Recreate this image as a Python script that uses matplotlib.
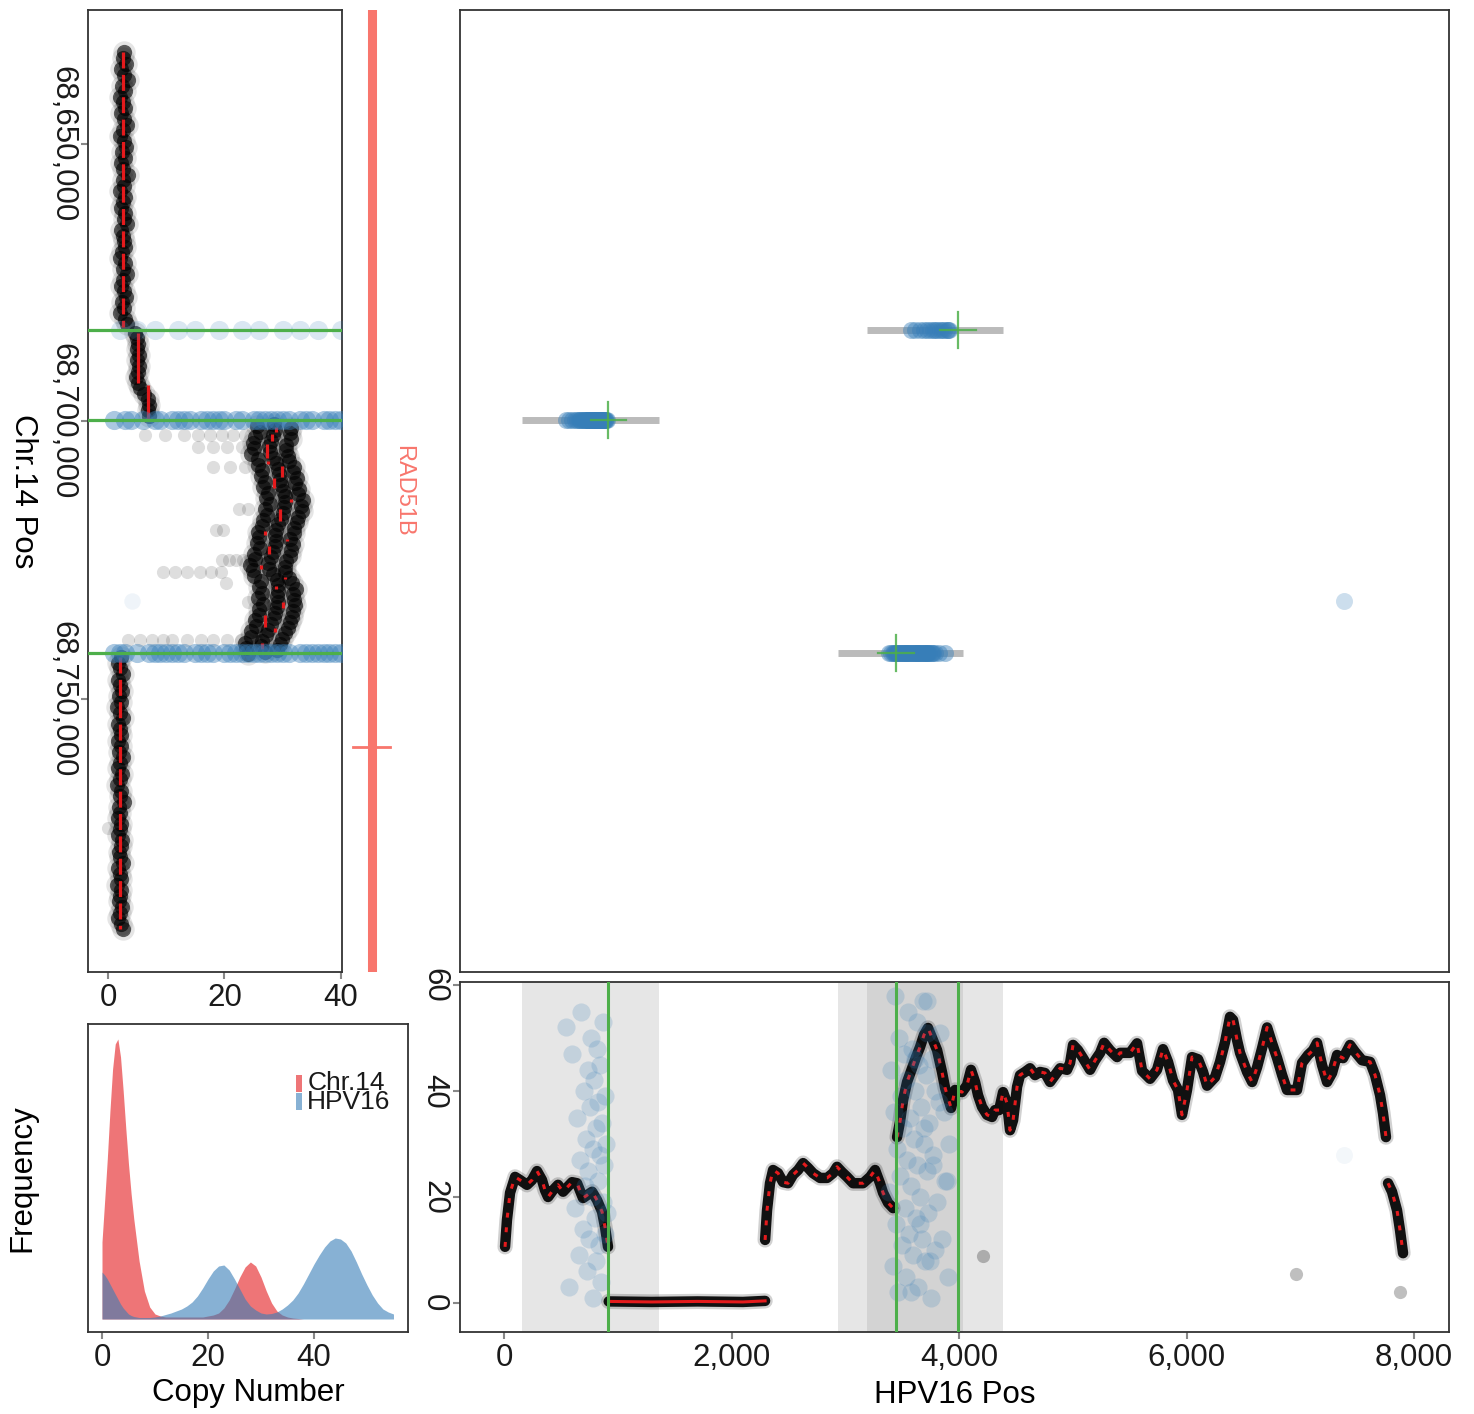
import numpy as np
import matplotlib
matplotlib.use("Agg")
import matplotlib.pyplot as plt
from matplotlib.patches import Rectangle
from matplotlib.ticker import FuncFormatter

plt.rcParams['font.family'] = ['Liberation Sans', 'DejaVu Sans']

BLUE = '#377EB8'
RED = '#E41A1C'
GREEN = '#4DAF4A'
GENE = '#F8766D'

# ---------------- breakpoints ----------------
bp_chr = [68683500, 68699700, 68741700]
bp_hpv = [3991, 918, 3446]
bp_lo = [3191, 158, 2936]
bp_hi = [4387, 1363, 4035]

# ---------------- Chr.14 copy number (1 kb bins) ----------------
bin_size = 1000
chrA_start = 68633500
chrA_cn = [2.8, 2.5, 3.1, 2.2, 2.7, 3.4, 2.4, 2.9, 2.1, 2.6, 3.0, 2.3, 2.8, 3.3, 2.5,
           2.0, 2.7, 3.1, 2.4, 2.9, 2.2, 2.6, 3.5, 2.5, 2.8, 2.1, 3.0, 2.6, 2.3, 2.9,
           2.7, 3.2, 2.2, 2.5, 2.8, 3.0, 2.4, 2.1, 2.9, 2.6, 3.3, 2.5, 2.2, 2.8, 3.1,
           2.4, 2.7, 2.0, 2.9, 3.2]
chrB_start = 68684000
chrB_cn = [4.6, 5.0, 5.2, 4.9, 5.3, 5.0, 5.4, 5.1, 4.8, 5.2, 5.5, 6.2, 6.8, 7.0, 6.9, 7.1]
chrC_start = 68700500
chrC_mid = [28.5, 28.7, 28.3, 27.9, 27.6, 27.8, 28.4, 28.9, 29.2, 29.4, 29.5, 29.7, 30.0, 30.3,
            30.4, 30.2, 30.0, 29.7, 29.2, 28.8, 28.7, 28.8, 28.6, 28.3, 27.9, 27.5, 27.6, 28.3,
            29.0, 29.2, 29.1, 29.0, 29.2, 29.0, 28.7, 28.5, 28.0, 27.5, 27.2, 26.5, 26.3, 27.0]
chrC_left_start = 68700830
chrC_left = [25.6, 26.1, 25.2, 24.9, 25.0, 24.6, 25.7, 25.8, 26.5, 26.2, 26.9, 26.6, 27.4, 27.1,
             27.8, 27.0, 27.3, 26.6, 26.5, 25.7, 26.0, 25.6, 26.1, 25.0, 25.3, 24.4, 24.9, 25.1,
             26.3, 26.0, 26.4, 25.8, 26.6, 25.9, 26.0, 25.3, 25.4, 24.6, 24.5, 23.6, 23.7, 24.1]
chrC_right_start = 68701160
chrC_right = [31.4, 31.2, 31.5, 30.6, 30.5, 30.9, 31.0, 32.0, 31.8, 32.4, 32.1, 32.8, 32.6, 33.4,
              33.1, 33.3, 32.7, 32.5, 32.0, 31.9, 31.3, 31.7, 31.4, 31.2, 30.6, 30.4, 30.3, 31.1,
              31.6, 32.3, 31.8, 32.0, 32.1, 31.7, 31.6, 31.2, 30.9, 30.4, 29.8, 29.5, 29.0]
chrD_start = 68742500
chrD_cn = [2.3, 1.8, 2.1, 2.5, 1.7, 2.0, 2.4, 1.9, 2.2, 1.6, 2.1, 2.6, 1.8, 2.0, 2.3,
           1.7, 2.2, 1.9, 2.5, 2.0, 1.8, 2.4, 2.1, 1.6, 2.2, 2.0, 2.7, 1.9, 2.1, 1.8,
           2.3, 2.0, 1.7, 2.4, 2.2, 1.9, 2.1, 2.5, 1.8, 2.0, 2.3, 1.6, 2.2, 2.0, 1.9,
           2.4, 2.1, 1.8, 2.2, 2.6]

# sparse low-density bins (light grey points)
sparse_chr = [68702400] * 8 + [68704600] * 4 + [68708200] * 3 + [68715800] * 2 + \
             [68719600] * 2 + [68725000] * 5 + [68727100] * 6 + [68729100, 68732500] + \
             [68739400] * 10 + [68773300]
sparse_cn = [6.4, 9.8, 13.0, 15.5, 17.5, 19.6, 21.5, 23.5,
             15.5, 18.0, 20.5, 23.0,
             18.0, 21.0, 23.5,
             22.5, 24.0,
             18.5, 19.7,
             19.5, 20.8, 22.0, 23.2, 24.5,
             9.4, 11.5, 13.5, 15.8, 17.6, 19.4,
             20.3, 24.0,
             3.4, 5.5, 7.5, 9.5, 11.0, 13.5, 16.0, 18.0, 20.5, 22.8,
             0.0]

# segment means (red)
segL_start = [68633500, 68684000, 68693500, 68701000, 68702300, 68704100, 68707200, 68708000,
              68710200, 68714000, 68715800, 68719800, 68721200, 68722500, 68725800, 68728000,
              68729700, 68732600, 68734900, 68737300, 68740000, 68742500]
segL_end = [68683000, 68693000, 68699500, 68701900, 68703500, 68706500, 68707700, 68710000,
            68712000, 68714500, 68718000, 68720400, 68721600, 68723800, 68726600, 68728400,
            68730200, 68733700, 68737000, 68738000, 68741000, 68791500]
segL_cn = [2.6, 5.1, 6.9, 28.8, 28.2, 27.3, 27.5, 29.8, 28.5, 31.5, 29.6, 27.0, 30.8, 27.6,
           26.2, 30.4, 28.9, 30.0, 26.9, 28.6, 26.5, 2.0]

# ---------------- HPV16 coverage ----------------
cov1_pos = [9, 26, 53, 97, 141, 202, 246, 290, 334, 360, 387, 431, 475, 519, 598, 642, 694,
            774, 818, 862, 888, 914]
cov1_val = [10.6, 15.7, 20.8, 23.8, 23.2, 22.3, 23.2, 24.9, 23.2, 21.3, 20.0, 21.3, 22.3,
            21.0, 22.8, 22.6, 19.8, 21.0, 19.4, 17.2, 14.3, 10.6]
cov0_pos = [920, 1300, 1700, 2100, 2295]
cov0_val = [0.3, 0.2, 0.3, 0.2, 0.4]
cov2_pos = [2295, 2312, 2338, 2365, 2409, 2453, 2497, 2541, 2585, 2629, 2673, 2716, 2778,
            2840, 2892, 2927, 2971, 3015, 3068, 3156, 3218, 3262, 3305, 3332, 3376, 3420]
cov2_val = [11.9, 17.5, 22.6, 25.1, 24.5, 22.8, 22.6, 24.2, 25.1, 26.4, 25.5, 24.5, 23.6,
            23.6, 24.5, 25.7, 24.7, 23.8, 22.6, 22.6, 23.8, 25.1, 22.6, 20.8, 18.9, 17.9]
cov3_pos = [3455, 3481, 3508, 3543, 3587, 3622, 3657, 3692, 3727, 3771, 3807, 3850, 3877,
            3903, 3930, 3965, 4026, 4070, 4105, 4141, 4167, 4202, 4246, 4290, 4316, 4352,
            4387, 4422, 4448, 4475, 4510, 4536, 4580, 4624, 4668, 4712, 4756, 4800, 4844,
            4888, 4949, 4976, 5002, 5046, 5090, 5152, 5196, 5240, 5275, 5327, 5389, 5415,
            5503, 5565, 5609, 5679, 5740, 5793, 5837, 5881, 5925, 5960, 6004, 6048, 6101,
            6145, 6180, 6250, 6294, 6338, 6382, 6409, 6444, 6470, 6532, 6576, 6620, 6664,
            6708, 6752, 6796, 6840, 6883, 6971, 7015, 7068, 7112, 7147, 7191, 7235, 7279,
            7323, 7376, 7437, 7481, 7543, 7613, 7657, 7701, 7727, 7753]
cov3_val = [31.3, 34.2, 38.3, 41.7, 44.3, 46.4, 48.3, 50.6, 51.9, 49.6, 47.7, 43.6, 40.6,
            38.7, 36.8, 40.2, 39.8, 41.1, 44.0, 41.7, 39.2, 37.0, 35.5, 35.1, 36.4, 36.4,
            39.8, 37.7, 32.6, 34.5, 40.8, 43.0, 43.6, 44.3, 43.0, 43.6, 43.4, 41.7, 43.0,
            44.3, 44.0, 45.3, 48.7, 47.7, 46.2, 44.0, 45.8, 47.2, 49.1, 47.7, 46.4, 47.2,
            47.2, 49.0, 43.8, 42.3, 44.0, 47.9, 45.5, 42.0, 40.2, 35.5, 40.2, 46.4, 46.0,
            43.6, 41.0, 42.6, 45.5, 49.2, 54.0, 53.4, 49.6, 47.2, 43.6, 41.7, 44.5, 48.1,
            52.0, 49.0, 46.2, 43.0, 40.2, 40.2, 45.3, 46.8, 47.7, 49.1, 44.9, 41.7, 43.4,
            46.8, 46.2, 48.7, 47.4, 45.8, 45.5, 43.0, 39.2, 35.8, 31.3]
cov4_pos = [7771, 7806, 7850, 7876, 7903]
cov4_val = [22.6, 21.0, 17.5, 13.8, 9.4]
cov_out_pos = [4207, 6960, 7876]
cov_out_val = [8.9, 5.5, 2.1]

# ---------------- junction reads (HPV pos, copy number) ----------------
bp1_hpv = [3575, 3610, 3660, 3690, 3720, 3745, 3770, 3790, 3810, 3830, 3850, 3870, 3890,
           3905, 3915]
bp1_cn = [2, 46, 15, 33, 57, 8, 26, 40, 19, 51, 12, 36, 23, 5, 30]
bp2_hpv = [545, 575, 600, 625, 640, 655, 668, 680, 690, 700, 710, 718, 726, 734, 742, 750,
           757, 764, 771, 778, 785, 792, 799, 806, 812, 818, 824, 830, 836, 842, 848, 854,
           860, 866, 872, 878, 884, 890, 896, 902]
bp2_cn = [52, 3, 47, 18, 35, 9, 27, 55, 14, 40, 22, 31, 6, 44, 25, 12, 37, 50, 20, 29, 1,
          42, 16, 33, 8, 48, 23, 38, 11, 28, 45, 4, 34, 19, 53, 26, 13, 39, 30, 17]
bp3_hpv = [3380, 3400, 3415, 3430, 3440, 3450, 3458, 3466, 3474, 3482, 3490, 3498, 3506,
           3514, 3522, 3530, 3538, 3546, 3554, 3562, 3570, 3578, 3586, 3594, 3602, 3610,
           3618, 3626, 3634, 3642, 3650, 3658, 3666, 3674, 3682, 3690, 3698, 3706, 3714,
           3722, 3730, 3740, 3750, 3760, 3772, 3785, 3820, 3877]
bp3_cn = [21, 44, 7, 36, 58, 15, 29, 2, 50, 24, 39, 11, 33, 47, 18, 5, 42, 27, 55, 13, 35,
          22, 48, 9, 31, 40, 16, 53, 26, 3, 45, 20, 37, 12, 57, 30, 8, 43, 25, 51, 17, 34,
          1, 46, 28, 10, 38, 23]
lone_hpv, lone_chr, lone_cn, lone_cn_chrpanel = 7385, 68732400, 28, 4.1

# ---------------- gene ----------------
gene_name = 'RAD51B'
gene_start, gene_end = 68286496, 69196935
gene_mark = 68758660
gene_label_pos = 68712500

# ---------------- copy-number densities (x1e-3) ----------------
dens_x = [0, 0.5, 1, 1.5, 2, 2.5, 3, 3.5, 4, 4.5, 5, 5.5, 6] + list(range(7, 56))
dens_chr = [77, 118, 160, 208, 250, 275, 280, 262, 228, 190, 155, 125, 100,
            58, 28, 12, 5, 3, 2, 2, 2, 2, 2, 2, 2, 2, 3, 4, 6, 11, 19, 30, 42, 52, 57, 53,
            42, 28, 16, 8, 4, 2, 1, 0.5] + [0] * 18
dens_hpv = [47, 44, 40, 35, 30, 25, 20, 15, 11, 8, 5, 3.5, 2.5,
            1.5, 1.5, 1.5, 2, 3, 4.5, 6, 8, 10, 13, 17, 23, 31, 40, 48, 53, 54, 49, 40, 30,
            20, 13, 9, 6, 5, 5.5, 7, 10, 14, 19, 26, 35, 45, 55, 64, 72, 78, 81, 80, 76, 68,
            57, 45, 34, 24, 16, 10, 7, 5]

# ---------------- figure ----------------
W, H = 1474, 1414
fig = plt.figure(figsize=(W / 100, H / 100), dpi=100)


def rect(x0, y0, x1, y1):
    return [x0 / W, 1 - y1 / H, (x1 - x0) / W, (y1 - y0) / H]


ax_chr = fig.add_axes(rect(88, 10, 342, 972))
ax_gene = fig.add_axes(rect(343, 10, 458, 972), sharey=ax_chr)
ax_main = fig.add_axes(rect(460, 10, 1449, 972), sharey=ax_chr)
ax_den = fig.add_axes(rect(88, 1024, 408, 1332))
ax_hpv = fig.add_axes(rect(460, 982, 1449, 1332), sharex=ax_main)

FS = 22.5
for ax in (ax_chr, ax_main, ax_den, ax_hpv):
    for s in ax.spines.values():
        s.set_color('#333333')
        s.set_linewidth(1.3)
    ax.tick_params(length=5, width=1.5, color='#888888', labelsize=FS, labelcolor='#1a1a1a', pad=3)

comma = FuncFormatter(lambda v, p: f"{int(round(v)):,}")


def bins(start, vals):
    return start + bin_size * np.arange(len(vals))


# ---- Chr.14 panel ----
ax_chr.set_xlim(-3.43, 40.17)
ax_chr.set_ylim(68799206, 68625853)
halo = dict(s=260, color='black', alpha=0.10, linewidths=0, zorder=2)
pt = dict(s=120, color='black', alpha=0.6, linewidths=0, zorder=2)
for cn, start in [(chrA_cn, chrA_start), (chrB_cn, chrB_start), (chrC_mid, chrC_start),
                  (chrC_left, chrC_left_start), (chrC_right, chrC_right_start),
                  (chrD_cn, chrD_start)]:
    ax_chr.scatter(cn, bins(start, cn), **halo)
    ax_chr.scatter(cn, bins(start, cn), **pt)
ax_chr.scatter(sparse_cn, sparse_chr, s=90, color='black', alpha=0.13, linewidths=0, zorder=2)
for s0, s1, c in zip(segL_start, segL_end, segL_cn):
    long = (s1 - s0) > 20000
    ax_chr.plot([c, c], [s0, s1], color=RED, lw=2.3, zorder=3,
                linestyle=(0, (5, 2)) if long else '-', solid_capstyle='butt')
for chrpos, cns, a in zip(bp_chr, [bp1_cn, bp2_cn, bp3_cn], [0.18, 0.42, 0.42]):
    ax_chr.scatter(cns, [chrpos] * len(cns), s=190, color=BLUE, alpha=a, linewidths=0, zorder=4)
    ax_chr.axhline(chrpos, color=GREEN, lw=2.3, zorder=5)
ax_chr.scatter([lone_cn_chrpanel], [lone_chr], s=140, color=BLUE, alpha=0.08, linewidths=0, zorder=4)
ax_chr.set_xticks([0, 20, 40])
ax_chr.set_yticks([68650000, 68700000, 68750000])
ax_chr.yaxis.set_major_formatter(comma)
ax_chr.tick_params(axis='y', labelrotation=-90)
plt.setp(ax_chr.get_yticklabels(), va='center')
ax_chr.set_ylabel('Chr.14 Pos', fontsize=FS, rotation=-90, va='center')
ax_chr.yaxis.set_label_coords(-0.255, 0.5)

# ---- gene track ----
ax_gene.set_xlim(0, 1)
ax_gene.axis('off')
ax_gene.plot([0.252, 0.252], [gene_start, gene_end], color=GENE, lw=6.5, solid_capstyle='butt')
ax_gene.plot([0.087, 0.409], [gene_mark, gene_mark], color=GENE, lw=2)
ax_gene.text(0.525, gene_label_pos, gene_name, color=GENE, fontsize=17, rotation=-90,
             ha='center', va='center')

# ---- main (HPV x Chr) panel ----
ax_main.tick_params(bottom=False, labelbottom=False, left=False, labelleft=False)
cross_dx, cross_dy = 155, 3200
for chrpos, lo, hi, hp, hv in zip(bp_chr, bp_lo, bp_hi, bp_hpv, [bp1_hpv, bp2_hpv, bp3_hpv]):
    ax_main.plot([lo, hi], [chrpos, chrpos], color='#BBBBBB', lw=5, solid_capstyle='butt', zorder=2)
    ax_main.scatter(hv, [chrpos] * len(hv), s=150, color=BLUE, alpha=0.45, linewidths=0, zorder=3)
    ax_main.plot([hp, hp], [chrpos - cross_dy, chrpos + cross_dy], color=GREEN, lw=1.6, alpha=0.85, zorder=4)
    ax_main.plot([hp - cross_dx, hp + cross_dx], [chrpos, chrpos], color=GREEN, lw=1.6, alpha=0.85, zorder=4)
ax_main.scatter([lone_hpv], [lone_chr], s=150, color=BLUE, alpha=0.25, linewidths=0, zorder=3)

# ---- HPV16 coverage panel ----
ax_hpv.set_xlim(-387, 8307)
ax_hpv.set_ylim(-5.47, 60.57)
for lo, hi in zip(bp_lo, bp_hi):
    ax_hpv.axvspan(lo, hi, color='#979797', alpha=0.24, lw=0, zorder=0)
segs = [(cov1_pos, cov1_val), (cov0_pos, cov0_val), (cov2_pos, cov2_val),
        (cov3_pos, cov3_val), (cov4_pos, cov4_val)]
for i, (p, v) in enumerate(segs):
    ax_hpv.plot(p, v, color='black', lw=11, alpha=0.18, solid_capstyle='round',
                solid_joinstyle='round', zorder=2)
    ax_hpv.plot(p, v, color='black', lw=7.5, alpha=0.92, solid_capstyle='round',
                solid_joinstyle='round', zorder=2)
    ax_hpv.plot(p, v, color=RED, lw=2.2, zorder=3,
                linestyle='-' if i == 1 else (0, (1.6, 3.2)))
ax_hpv.scatter(cov_out_pos, cov_out_val, s=90, color='black', alpha=0.25, linewidths=0, zorder=2)
for hv, cn in zip([bp1_hpv, bp2_hpv, bp3_hpv], [bp1_cn, bp2_cn, bp3_cn]):
    ax_hpv.scatter(hv, cn, s=170, color=BLUE, alpha=0.2, linewidths=0, zorder=4)
ax_hpv.scatter([lone_hpv], [lone_cn], s=150, color=BLUE, alpha=0.06, linewidths=0, zorder=4)
for hp in bp_hpv:
    ax_hpv.axvline(hp, color=GREEN, lw=2.2, zorder=5)
ax_hpv.set_xticks([0, 2000, 4000, 6000, 8000])
ax_hpv.xaxis.set_major_formatter(comma)
ax_hpv.set_yticks([0, 20, 40, 60])
ax_hpv.tick_params(axis='y', labelrotation=-90)
plt.setp(ax_hpv.get_yticklabels(), va='center')
ax_hpv.set_xlabel('HPV16 Pos', fontsize=FS, va='center')
ax_hpv.xaxis.set_label_coords(0.5, -0.18)

# ---- density panel ----
dx = np.array(dens_x, dtype=float)
ax_den.fill_between(dx, np.array(dens_chr) / 1000, color=RED, alpha=0.6, lw=0)
ax_den.fill_between(dx, np.array(dens_hpv) / 1000, color=BLUE, alpha=0.6, lw=0)
ax_den.set_xlim(-2.64, 57.74)
ax_den.set_ylim(-0.013, 0.295)
ax_den.set_xticks([0, 20, 40])
ax_den.set_yticks([])
ax_den.set_xlabel('Copy Number', fontsize=FS, va='center')
ax_den.xaxis.set_label_coords(0.5, -0.198)
ax_den.set_ylabel('Frequency', fontsize=FS, va='center')
ax_den.yaxis.set_label_coords(-0.206, 0.5)
for i, (lab, col) in enumerate([('Chr.14', RED), ('HPV16', BLUE)]):
    yc = 0.808 - i * 0.06
    ax_den.add_patch(Rectangle((0.650, yc - 0.028), 0.019, 0.056, transform=ax_den.transAxes,
                               color=col, alpha=0.6, lw=0))
    ax_den.text(0.685, yc, lab, transform=ax_den.transAxes, fontsize=19, ha='left',
                va='center', color='#1a1a1a')

fig.savefig('out.png', dpi=100)
